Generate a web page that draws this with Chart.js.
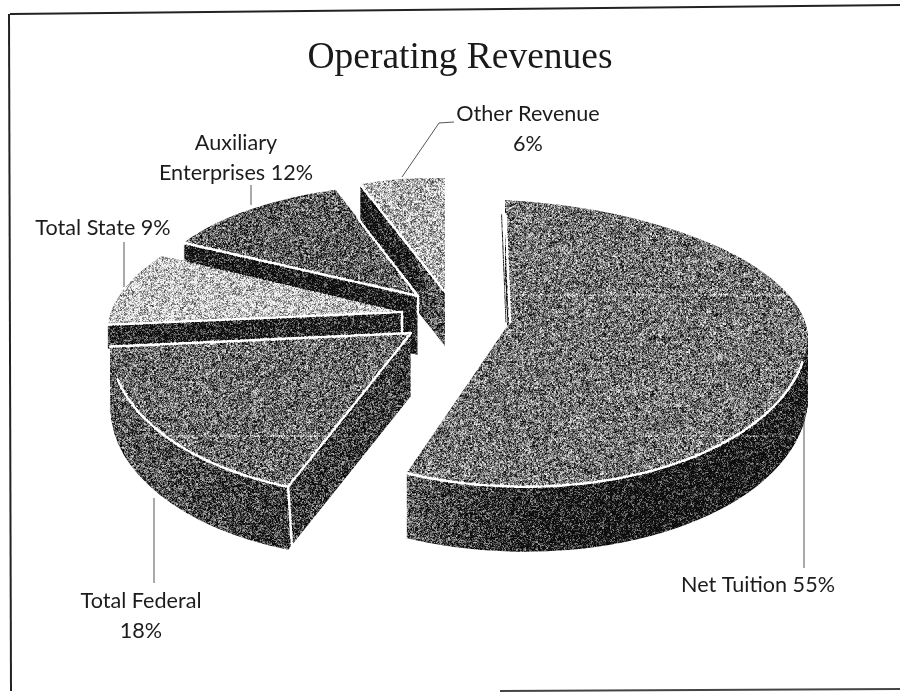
<!DOCTYPE html>
<html>
<head>
<meta charset="utf-8">
<title>Operating Revenues</title>
<script src="https://cdn.jsdelivr.net/npm/chart.js@4"></script>
<style>
  html, body { margin: 0; padding: 0; background: #fff; }
  #wrap { position: relative; width: 901px; height: 692px; }
</style>
</head>
<body>
<div id="wrap"><canvas id="revenueChart" width="901" height="692"></canvas></div>
<script>
const categories = ['Net Tuition', 'Total Federal', 'Total State', 'Auxiliary Enterprises', 'Other Revenue'];
const shares = [55, 18, 9, 12, 6];

// text of the callouts, one entry per line
const calloutLines = [
  ['Net Tuition 55%'],
  ['Total Federal', '18%'],
  ['Total State 9%'],
  ['Auxiliary', 'Enterprises 12%'],
  ['Other Revenue', '6%']
];

const RADIUS = 100;

// how each exploded slice is seen: its tip, the projected x and y radius of the pie
// (eyBack is used for the half of the disc behind the tip), the thickness and the shades
const sliceViews = [
  { at: [510, 322], ex: [298, 15], ey: [-12, 164], eyBack: [5, 122], depth: 65, top: '#747474',
    side: [[0, '#626262'], [0.33, '#626262'], [0.5, '#2c2c2c'], [0.75, '#101010'], [1, '#222222']] },
  { at: [411, 333], ex: [299, 7], ey: [-32, 164], depth: 63, top: '#6c6c6c',
    side: [[0, '#646464'], [0.3, '#3a3a3a'], [0.6, '#444444'], [1, '#444444']] },
  { at: [402, 312], ex: [290, 3], ey: [-52, 126], depth: 24, top: '#c4c4c4',
    side: [[0, '#262626'], [1, '#262626']] },
  { at: [418, 296], ex: [267, 6], ey: [-17, 112], depth: 59, top: '#606060',
    side: [[0, '#181818'], [1, '#181818']] },
  { at: [445, 292], ex: [231, 5], ey: [0, 114], depth: 54, top: '#b0b0b0',
    side: [[0, '#121212'], [0.42, '#181818'], [0.47, '#585858'], [1, '#585858']] }
];

// white glints along the slice edges; rim is a part of the arc, edges are [end of arc, reach]
const glints = [
  { rim: [0.5, 1], edges: [[0, 0.88]], shadow: 0 },
  { rim: [0, 0.82], edges: [[0, 1], [1, 1]], drop: 0 },
  { edges: [[0, 1]], tipDrop: 24 },
  { edges: [[0, 1], [1, 0.72]], tipDrop: 18 },
  { edges: [[0, 1]] }
];

const drawOrder = [4, 3, 2, 1, 0];

// callout placement, centre of the first line and the line height
const calloutSpots = [
  { x: 758, y: 585, lh: 30 },
  { x: 141, y: 601, lh: 30 },
  { x: 103, y: 228, lh: 30 },
  { x: 236, y: 143, lh: 30 },
  { x: 528, y: 114, lh: 30 }
];
const leaders = [
  [[804, 417], [804, 568]],
  [[154, 498], [154, 583]],
  [[124, 242], [124, 287]],
  [[251, 185], [251, 205]],
  [[454, 122], [439, 123], [402, 177]]
];

// pale scanner streaks that run across the print
const scanStreaks = [
  [[512, 295], [796, 295]],
  [[160, 436], [372, 436]],
  [[640, 436], [795, 436]]
];

function toScreen(view, angle, reach) {
  const ux = Math.cos(angle) * reach, uy = Math.sin(angle) * reach;
  const ey = (uy < 0 && view.eyBack) ? view.eyBack : view.ey;
  return [view.at[0] + ux * view.ex[0] + uy * ey[0], view.at[1] + ux * view.ex[1] + uy * ey[1]];
}

function paintArc(ctx, arc, view, fill, dy) {
  const parts = view.eyBack ? [[view.eyBack, -1], [view.ey, 1]] : [[view.ey, 0]];
  const saved = arc.options;
  arc.options = Object.assign({}, saved, { backgroundColor: fill, borderWidth: 0 });
  parts.forEach(([ey, half]) => {
    ctx.save();
    ctx.translate(view.at[0], view.at[1] + dy);
    ctx.transform(view.ex[0] / RADIUS, view.ex[1] / RADIUS, ey[0] / RADIUS, ey[1] / RADIUS, 0, 0);
    if (half) {
      ctx.beginPath();
      if (half < 0) ctx.rect(-RADIUS * 1.1, -RADIUS * 1.1, RADIUS * 2.2, RADIUS * 1.1);
      else ctx.rect(-RADIUS * 1.1, -0.4, RADIUS * 2.2, RADIUS * 1.1);
      ctx.clip();
    }
    ctx.translate(-arc.x, -arc.y);
    arc.draw(ctx);
    ctx.restore();
  });
  arc.options = saved;
}

function strokePoints(ctx, pts, color, width) {
  ctx.strokeStyle = color;
  ctx.lineWidth = width;
  ctx.beginPath();
  pts.forEach((p, i) => i ? ctx.lineTo(p[0], p[1]) : ctx.moveTo(p[0], p[1]));
  ctx.stroke();
}

function paintGlints(ctx, arc, view, g) {
  const angleAt = f => arc.startAngle + (arc.endAngle - arc.startAngle) * f;
  ctx.save();
  ctx.lineCap = 'round';
  if (g.shadow !== undefined) {
    const a = toScreen(view, angleAt(g.shadow), 0), b = toScreen(view, angleAt(g.shadow), 0.88);
    strokePoints(ctx, [[a[0] - 4, a[1]], [b[0] - 4, b[1]]], '#333', 1);
  }
  (g.edges || []).forEach(([f, reach]) => {
    strokePoints(ctx, [toScreen(view, angleAt(f), 0), toScreen(view, angleAt(f), reach)], '#fff', 2.6);
  });
  if (g.rim) {
    const pts = [];
    for (let i = 0; i <= 60; i++) {
      pts.push(toScreen(view, angleAt(g.rim[0] + (g.rim[1] - g.rim[0]) * i / 60), 1));
    }
    strokePoints(ctx, pts, '#fff', 2.6);
  }
  if (g.drop !== undefined) {
    const p = toScreen(view, angleAt(g.drop), 1);
    strokePoints(ctx, [p, [p[0] + 4, p[1] + view.depth]], '#fff', 2.6);
  }
  if (g.tipDrop) {
    strokePoints(ctx, [view.at, [view.at[0], view.at[1] + g.tipDrop]], '#fff', 2.6);
  }
  ctx.restore();
}

// gives the grey shades the grain of a scanned print
function speckle(ctx, x0, y0, w, h) {
  const img = ctx.getImageData(x0, y0, w, h);
  const px = img.data;
  const hash = (x, y) => {
    let n = (x * 374761393 + y * 668265263) | 0;
    n = Math.imul(n ^ (n >>> 13), 1274126177);
    return ((n ^ (n >>> 16)) >>> 0) / 4294967296;
  };
  for (let y = 0; y < h; y++) {
    for (let x = 0; x < w; x++) {
      const i = (y * w + x) * 4;
      if (px[i + 3] === 0) continue;
      const grey = px[i];
      if (grey >= 250) continue;
      const t = 0.6 * hash(x, y) + 0.4 * hash(x >> 1, (y >> 1) + 7000);
      const out = Math.max(12, Math.min(245, grey + (t - 0.5) * 270));
      px[i] = px[i + 1] = px[i + 2] = out;
    }
  }
  ctx.putImageData(img, x0, y0);
}

const explodedPie = {
  id: 'explodedPie',
  beforeDatasetDraw() {
    return false;
  },
  afterDatasetsDraw(chart) {
    const ctx = chart.ctx;
    const arcs = chart.getDatasetMeta(0).data;
    drawOrder.forEach(i => {
      const arc = arcs[i], view = sliceViews[i];
      const grad = ctx.createLinearGradient(arc.x - RADIUS, 0, arc.x + RADIUS, 0);
      view.side.forEach(([t, c]) => grad.addColorStop(t, c));
      for (let k = view.depth; k >= 1; k--) paintArc(ctx, arc, view, grad, k);
      paintArc(ctx, arc, view, view.top, 0);
      paintGlints(ctx, arc, view, glints[i]);
    });
    scanStreaks.forEach(pts => strokePoints(ctx, pts, 'rgba(255,255,255,0.55)', 1));
    speckle(ctx, 60, 165, 790, 400);
  },
  afterDraw(chart) {
    const ctx = chart.ctx;
    ctx.save();
    // scanned page border
    strokePoints(ctx, [[10, 14], [900, 5]], '#222', 2);
    strokePoints(ctx, [[9, 14], [11, 691]], '#222', 2);
    strokePoints(ctx, [[500, 691], [900, 689]], '#444', 2);
    leaders.forEach(pts => strokePoints(ctx, pts, '#555', 1));
    ctx.fillStyle = '#1c1c1c';
    ctx.font = '21.6px Lato';
    ctx.textAlign = 'center';
    ctx.textBaseline = 'middle';
    calloutLines.forEach((lines, i) => {
      const s = calloutSpots[i];
      lines.forEach((t, k) => ctx.fillText(t, s.x, s.y + k * s.lh));
    });
    ctx.restore();
  }
};

new Chart(document.getElementById('revenueChart'), {
  type: 'pie',
  data: {
    labels: categories,
    datasets: [{
      data: shares,
      backgroundColor: sliceViews.map(v => v.top),
      borderWidth: 0
    }]
  },
  options: {
    responsive: false,
    animation: false,
    radius: RADIUS,
    layout: { padding: { left: 19 } },
    plugins: {
      legend: { display: false },
      tooltip: { enabled: false },
      title: {
        display: true,
        text: 'Operating Revenues',
        color: '#1a1a1a',
        font: { family: '"Liberation Serif"', size: 37.5, weight: 'normal' },
        padding: { top: 36, bottom: 10 }
      }
    }
  },
  plugins: [explodedPie]
});
</script>
</body>
</html>
